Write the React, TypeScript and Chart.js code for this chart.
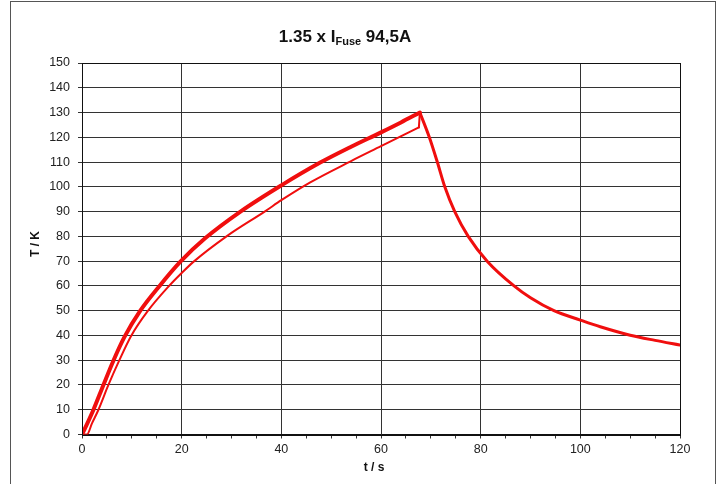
import React, { useEffect, useRef } from 'react';
import { Chart, registerables } from 'chart.js';

Chart.register(...registerables);

const titleMain = '1.35 x I';
const titleSub = 'Fuse';
const titleTail = ' 94,5A';
const xAxisTitle = 't / s';
const yAxisTitle = 'T / K';

// heating curve (upper)
const upperT = [0, 1, 2.3, 4.3, 6.3, 8.5, 11.7, 15.4, 19.7, 24.7, 31.8, 40, 47.8, 54, 60, 64, 67.8];
const upperK = [0, 4.2, 10, 20, 29.8, 39.3, 50, 59.6, 69.7, 79.2, 90, 100.6, 109.8, 116.2, 122, 126, 130];

// heating curve (lower)
const lowerT = [0, 1, 2, 3.3, 5.3, 7.5, 9.8, 13.1, 17.3, 20, 22.3, 29, 36.8, 40, 45.8, 53.9, 60, 67.6];
const lowerK = [0, 0, 4.5, 10, 20, 30, 39.6, 49.6, 59.6, 65.2, 69.6, 80, 90.2, 94.6, 101.8, 110.3, 116.4, 124];

// step at switch-off
const stepT = [67.6, 67.8];
const stepK = [124, 130];

// cooling curve
const coolT = [67.8, 69.7, 71.3, 72.8, 74.8, 77.5, 81.3, 86.7, 90, 94.7, 100, 104, 110, 115, 120];
const coolK = [130, 120, 110, 100, 90, 80, 70, 60, 55.2, 50, 46.2, 43.5, 40.1, 38, 36.1];

const xMin = 0;
const xMax = 120;
const yMin = 0;
const yMax = 150;

const toPoints = (xs: number[], ys: number[]) => xs.map((x, i) => ({ x, y: ys[i] }));

const FONT = '"Liberation Sans", Arial, sans-serif';
const RED = 'rgb(240,14,14)';

export default function App() {
  const ref = useRef<HTMLCanvasElement>(null);

  useEffect(() => {
    if (!ref.current) return;

    const decor = {
      id: 'decor',
      beforeDraw(chart: any) {
        const ctx = chart.ctx;
        ctx.save();
        ctx.fillStyle = '#fff';
        ctx.fillRect(0, 0, chart.width, chart.height);
        ctx.restore();
      },
      afterDraw(chart: any) {
        const ctx = chart.ctx;
        const a = chart.chartArea;
        ctx.save();
        // plot border
        ctx.strokeStyle = '#111';
        ctx.lineWidth = 1;
        ctx.strokeRect(Math.round(a.left) + 0.5, Math.round(a.top) + 0.5, Math.round(a.right - a.left), Math.round(a.bottom - a.top));
        // outer frame
        ctx.strokeStyle = '#555';
        ctx.strokeRect(10.5, 1.5, 705, 520);

        // title with subscript
        ctx.fillStyle = '#111';
        const bigFont = `bold 17px ${FONT}`;
        const subFont = `bold 11px ${FONT}`;
        ctx.font = bigFont;
        const w1 = ctx.measureText(titleMain).width;
        const w3 = ctx.measureText(titleTail).width;
        ctx.font = subFont;
        const w2 = ctx.measureText(titleSub).width;
        const total = w1 + w2 + w3;
        let x = 345 - total / 2;
        const by = 42;
        ctx.textAlign = 'left';
        ctx.textBaseline = 'alphabetic';
        ctx.font = bigFont;
        ctx.fillText(titleMain, x, by);
        x += w1;
        ctx.font = subFont;
        ctx.fillText(titleSub, x, by + 3);
        x += w2;
        ctx.font = bigFont;
        ctx.fillText(titleTail, x, by);

        // axis titles
        ctx.font = `bold 12px ${FONT}`;
        ctx.textAlign = 'center';
        ctx.fillText(xAxisTitle, 374, 471);
        ctx.translate(38.5, 244);
        ctx.rotate(-Math.PI / 2);
        ctx.fillText(yAxisTitle, 0, 0);
        ctx.restore();
      },
    };

    const line = (xs: number[], ys: number[], w: number) => ({
      data: toPoints(xs, ys),
      showLine: true,
      borderColor: RED,
      borderWidth: w,
      pointRadius: 0,
      cubicInterpolationMode: 'monotone',
      borderCapStyle: 'round',
      borderJoinStyle: 'round',
    });

    const chart = new Chart(ref.current, {
      type: 'scatter',
      data: {
        datasets: [
          line(upperT, upperK, 4),
          line(lowerT, lowerK, 2),
          line(stepT, stepK, 2),
          line(coolT, coolK, 3),
        ],
      } as any,
      options: {
        animation: false,
        responsive: false,
        devicePixelRatio: 1,
        layout: { padding: { left: 0, right: 37, top: 63, bottom: 19.5 } },
        plugins: {
          legend: { display: false },
          tooltip: { enabled: false },
          title: { display: false },
        },
        scales: {
          x: {
            type: 'linear',
            min: xMin,
            max: xMax,
            afterFit: (s: any) => { s.height = 30; },
            ticks: {
              stepSize: 5,
              autoSkip: false,
              maxRotation: 0,
              padding: 4,
              color: '#222',
              font: { family: FONT, size: 12.5 },
              callback: (v: any) => (Number(v) % 20 === 0 ? String(v) : ''),
            },
            grid: {
              color: (c: any) => (c.tick && c.tick.value % 20 === 0 ? '#333' : 'rgba(0,0,0,0)'),
              tickColor: '#333',
              tickLength: 4,
              lineWidth: 1,
            },
            border: { color: '#111' },
          },
          y: {
            type: 'linear',
            min: yMin,
            max: yMax,
            afterFit: (s: any) => { s.width = 82; },
            ticks: {
              stepSize: 10,
              padding: 8,
              color: '#222',
              font: { family: FONT, size: 12.5 },
            },
            grid: {
              color: '#333',
              tickColor: '#333',
              tickLength: 4,
              lineWidth: 1,
            },
            border: { color: '#111' },
          },
        },
      } as any,
      plugins: [decor],
    });

    return () => chart.destroy();
  }, []);

  return (
    <div style={{ position: 'absolute', left: 0, top: 0, width: 717, height: 484 }}>
      <canvas ref={ref} width={717} height={484} style={{ display: 'block' }} />
    </div>
  );
}
